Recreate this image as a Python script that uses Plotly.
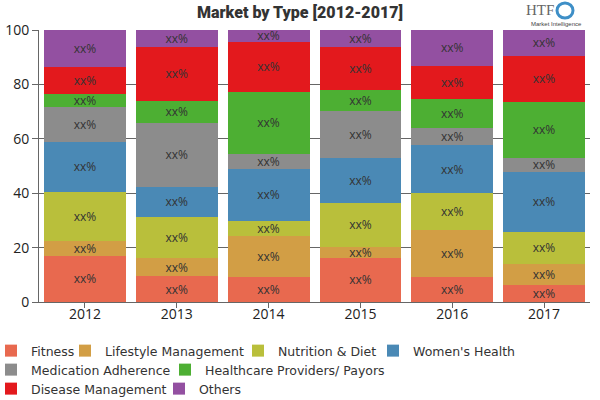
import plotly.graph_objects as go

years = ["2012", "2013", "2014", "2015", "2016", "2017"]
series_names = ["Fitness", "Lifestyle Management", "Nutrition & Diet", "Women's Health",
                "Medication Adherence", "Healthcare Providers/ Payors", "Disease Management", "Others"]
fitness = [17.0, 9.4, 9.1, 16.3, 9.1, 6.4]
lifestyle = [5.6, 6.9, 15.3, 3.9, 17.5, 7.7]
nutrition = [17.8, 15.0, 5.5, 16.3, 13.3, 11.7]
womens = [18.5, 11.1, 19.1, 16.3, 17.9, 22.1]
medication = [12.7, 23.5, 5.5, 17.3, 6.0, 5.2]
healthcare = [4.9, 8.0, 22.7, 7.9, 10.9, 20.6]
disease = [9.9, 19.9, 18.4, 15.8, 12.1, 16.9]
others = [13.6, 6.2, 4.4, 6.2, 13.2, 9.4]
series_values = [fitness, lifestyle, nutrition, womens, medication, healthcare, disease, others]
colors = ["#E8694F", "#D29E45", "#B9BF3B", "#4A89B5", "#8C8C8C", "#4DAF33", "#E3191D", "#9350A1"]

# legend layout (pixel positions of the text start and row centre in the 600x400 page)
legend_text_x = [28, 102, 275, 410, 28, 202, 28, 190]
legend_shift = [-37, -37, -37, -37, -37, -37, -37, -31]
legend_row_y = [351, 351, 351, 351, 370, 370, 389, 389]

L, R, T, B = 39, 10, 30, 98
W, H = 600, 400
pw, ph = W - L - R, H - T - B

fig = go.Figure()
for i, (name, vals, col) in enumerate(zip(series_names, series_values, colors)):
    lg = "legend" if i == 0 else f"legend{i+1}"
    fig.add_trace(go.Bar(
        x=years, y=vals, name=name, marker=dict(color=col, line=dict(width=0)),
        text=["xx%"] * len(vals), textposition="inside", insidetextanchor="middle",
        textangle=0, constraintext="none",
        textfont=dict(family="Open Sans", size=12, color="#333333"),
        legend=lg,
    ))

layout_legends = {}
for i in range(len(series_names)):
    lg = "legend" if i == 0 else f"legend{i+1}"
    sx = legend_text_x[i] + legend_shift[i]
    layout_legends[lg] = dict(
        x=(sx - L) / pw, y=(H - B - legend_row_y[i]) / ph,
        xanchor="left", yanchor="middle", orientation="h",
        bgcolor="rgba(0,0,0,0)", borderwidth=0, itemwidth=30,
        font=dict(family="DejaVu Sans", size=12.5, color="#333333"),
        itemclick=False,
    )

fig.update_layout(
    width=W, height=H,
    margin=dict(l=L, r=R, t=T, b=B, autoexpand=False),
    barmode="stack", bargap=0.109,
    paper_bgcolor="white", plot_bgcolor="white",
    title=dict(text="Market by Type [2012-2017]", xref="container", x=0.5, xanchor="center",
               yref="container", y=1 - 12 / H, yanchor="middle",
               font=dict(family="Roboto", size=16, weight=900, color="#333333")),
    xaxis=dict(type="category", showline=True, linecolor="#666666", linewidth=1,
               ticks="outside", ticklen=5, tickcolor="#666666", ticklabelstandoff=-6,
               tickfont=dict(family="Open Sans", size=14, color="#222222"), showgrid=False),
    yaxis=dict(range=[0, 100], dtick=20, showline=True, linecolor="#666666", linewidth=1,
               ticks="outside", ticklen=6, tickcolor="#666666",
               showgrid=True, gridcolor="#666666", gridwidth=1, zeroline=False,
               tickfont=dict(family="Open Sans", size=14, color="#222222")),
    showlegend=True,
    **layout_legends,
)

# logo
fig.add_annotation(text="HTF", xref="paper", yref="paper", x=(540 - L) / pw, y=(H - B - 10) / ph,
                   showarrow=False, xanchor="center", yanchor="middle",
                   font=dict(family="Liberation Serif", size=15, color="#666666"))
fig.add_annotation(text="Market Intelligence", xref="paper", yref="paper", x=(556 - L) / pw, y=(H - B - 24) / ph,
                   showarrow=False, xanchor="center", yanchor="middle",
                   font=dict(family="Liberation Sans", size=6, color="#444444"))
fig.add_shape(type="circle", xref="paper", yref="paper",
              x0=(557 - L) / pw, x1=(573 - L) / pw, y0=(H - B - 18) / ph, y1=(H - B - 3) / ph,
              line=dict(color="#3E8FC7", width=3), fillcolor="rgba(0,0,0,0)")

fig.write_html("out.html")
